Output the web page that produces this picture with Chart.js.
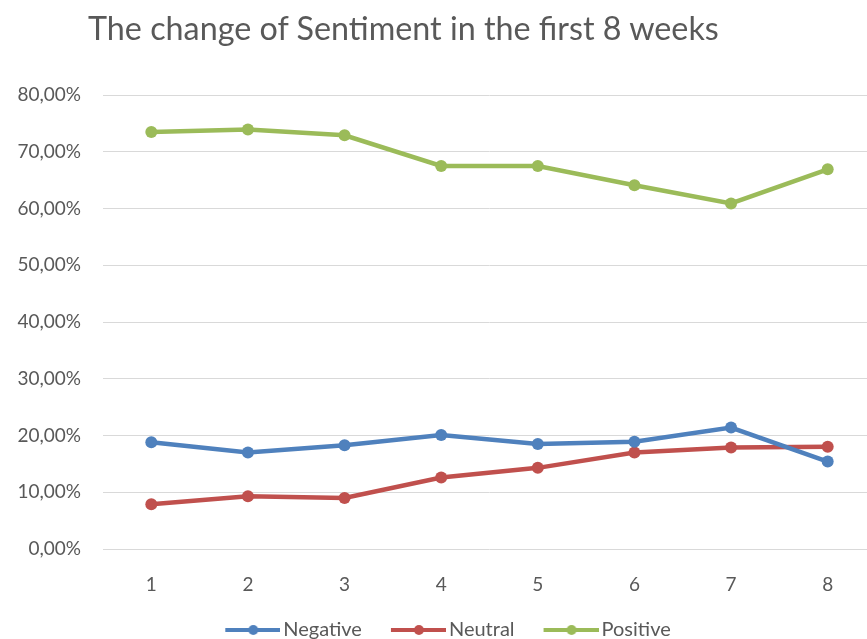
<!DOCTYPE html>
<html>
<head>
<meta charset="utf-8">
<script src="https://cdn.jsdelivr.net/npm/chart.js@4/dist/chart.umd.min.js"></script>
<style>
  html, body { margin: 0; padding: 0; background: #fff; overflow: hidden; }
  #wrap { position: relative; width: 882px; height: 650px; }
  #title {
    position: absolute; left: 88px; top: 9px;
    font-family: Lato, sans-serif; font-size: 32.3px; line-height: 38px;
    color: #595959; white-space: nowrap;
  }
  canvas { display: block; }
</style>
</head>
<body>
<div id="wrap">
  <div id="title">The change of Sentiment in the first 8 weeks</div>
  <canvas id="sentimentChart" width="882" height="650"></canvas>
</div>
<script>
// Weeks and sentiment shares (percent)
const weeks = ['1', '2', '3', '4', '5', '6', '7', '8'];
const negative = [18.8, 17.0, 18.3, 20.1, 18.5, 18.9, 21.4, 15.4];
const neutral = [7.9, 9.3, 9.0, 12.6, 14.3, 17.0, 17.9, 18.0];
const positive = [73.5, 73.9, 72.9, 67.5, 67.5, 64.1, 60.9, 66.9];
const seriesNames = ['Negative', 'Neutral', 'Positive'];
const yMin = 0;
const yMax = 80;
const yStep = 10;

const colors = ['#4F81BD', '#C0504D', '#9BBB59'];
const textColor = '#595959';
const font = 'Lato, sans-serif';

// Excel-like legend marker: a line with a dot in the middle
function legendMarker(color) {
  const c = document.createElement('canvas');
  c.width = 76;
  c.height = 14;
  const g = c.getContext('2d');
  g.strokeStyle = color;
  g.lineWidth = 4;
  g.beginPath();
  g.moveTo(21, 7);
  g.lineTo(76, 7);
  g.stroke();
  g.fillStyle = color;
  g.beginPath();
  g.arc(49, 7, 5, 0, Math.PI * 2);
  g.fill();
  return c;
}
const markers = colors.map(legendMarker);

function makeDataset(label, data, color) {
  return {
    label: label,
    data: data,
    borderColor: color,
    backgroundColor: color,
    borderWidth: 4.5,
    pointRadius: 6,
    pointHoverRadius: 6,
    pointBorderWidth: 0,
    pointStyle: 'circle',
    tension: 0,
  };
}

const ctx = document.getElementById('sentimentChart').getContext('2d');
new Chart(ctx, {
  type: 'line',
  data: {
    labels: weeks,
    datasets: [
      makeDataset(seriesNames[0], negative, colors[0]),
      makeDataset(seriesNames[1], neutral, colors[1]),
      makeDataset(seriesNames[2], positive, colors[2]),
    ],
  },
  options: {
    responsive: false,
    animation: false,
    layout: { padding: { top: 95, left: 0, right: 0, bottom: 0 } },
    scales: {
      x: {
        offset: true,
        grid: { display: false, offset: true },
        border: { display: false },
        ticks: { color: textColor, font: { family: font, size: 19 }, padding: 16 },
        afterFit: (scale) => { scale.height = 56; },
      },
      y: {
        min: yMin,
        max: yMax,
        grid: { color: '#D9D9D9', lineWidth: 1, drawTicks: false },
        border: { display: false },
        ticks: {
          stepSize: yStep,
          color: textColor,
          font: { family: font, size: 19 },
          padding: 22,
          callback: (v) => v.toFixed(2).replace('.', ',') + '%',
        },
        afterFit: (scale) => { scale.width = 103; },
      },
    },
    plugins: {
      title: { display: false },
      tooltip: { enabled: false },
      legend: {
        position: 'bottom',
        labels: {
          usePointStyle: true,
          pointStyleWidth: 62,
          padding: 15,
          color: textColor,
          font: { family: font, size: 20 },
          generateLabels: (chart) => {
            const items = Chart.defaults.plugins.legend.labels.generateLabels(chart);
            items.forEach(item => { item.pointStyle = markers[item.datasetIndex]; });
            return items;
          },
        },
      },
    },
  },
});
</script>
</body>
</html>
